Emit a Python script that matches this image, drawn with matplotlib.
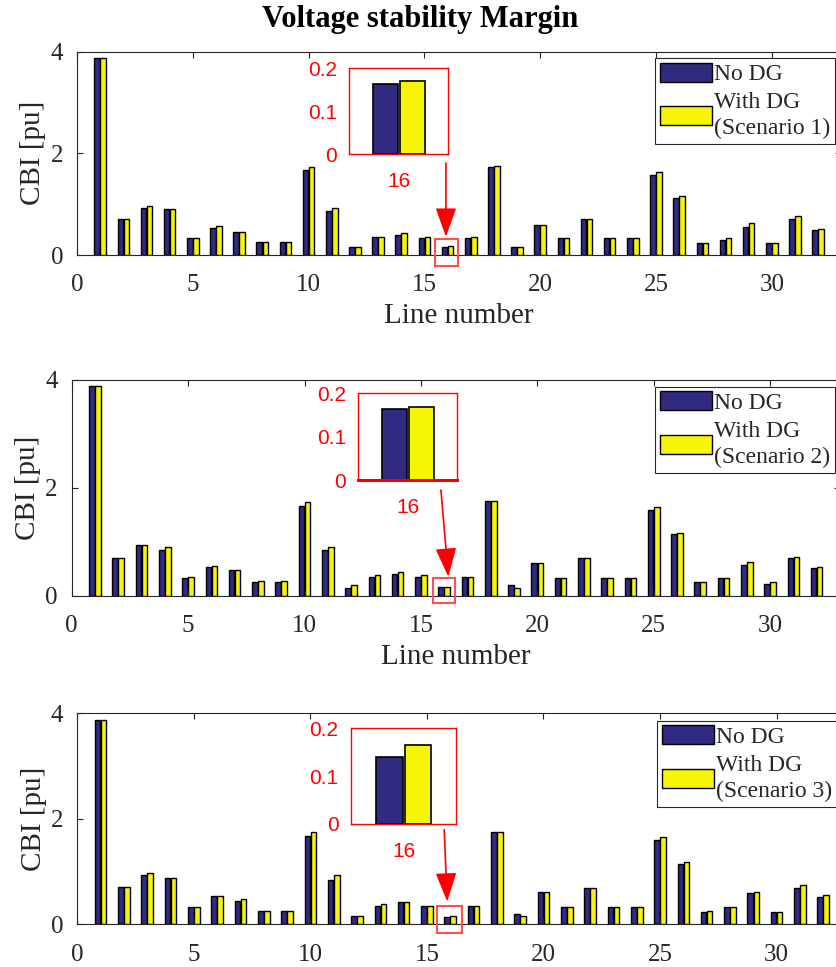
import numpy as np
import matplotlib
matplotlib.use("Agg")
import matplotlib.pyplot as plt
from matplotlib.patches import Rectangle

# Data (CBI per line)
lines = np.arange(1, 33)

no_dg_1 = [3.87, 0.70, 0.93, 0.90, 0.33, 0.54, 0.46, 0.26, 0.26, 1.67, 0.87, 0.16, 0.36, 0.39, 0.34, 0.163,
           0.34, 1.74, 0.16, 0.60, 0.33, 0.70, 0.33, 0.33, 1.57, 1.13, 0.23, 0.30, 0.56, 0.23, 0.70, 0.49]
with_dg_1 = [3.87, 0.70, 0.97, 0.90, 0.33, 0.57, 0.46, 0.26, 0.26, 1.74, 0.93, 0.16, 0.36, 0.44, 0.36, 0.170,
             0.36, 1.76, 0.16, 0.60, 0.33, 0.70, 0.33, 0.33, 1.63, 1.17, 0.23, 0.33, 0.63, 0.23, 0.77, 0.52]

no_dg_2 = [3.88, 0.69, 0.94, 0.85, 0.32, 0.53, 0.47, 0.25, 0.25, 1.67, 0.85, 0.15, 0.35, 0.41, 0.35, 0.163,
           0.35, 1.76, 0.19, 0.60, 0.32, 0.69, 0.32, 0.32, 1.58, 1.14, 0.25, 0.32, 0.57, 0.22, 0.69, 0.51]
with_dg_2 = [3.88, 0.69, 0.94, 0.91, 0.35, 0.56, 0.47, 0.28, 0.28, 1.73, 0.91, 0.19, 0.38, 0.44, 0.38, 0.169,
             0.35, 1.76, 0.15, 0.60, 0.32, 0.69, 0.32, 0.32, 1.64, 1.17, 0.25, 0.32, 0.63, 0.25, 0.72, 0.54]

no_dg_3 = [3.87, 0.70, 0.93, 0.87, 0.32, 0.54, 0.45, 0.26, 0.26, 1.68, 0.84, 0.16, 0.35, 0.42, 0.35, 0.140,
           0.35, 1.74, 0.20, 0.61, 0.32, 0.68, 0.32, 0.32, 1.59, 1.14, 0.23, 0.32, 0.59, 0.23, 0.68, 0.52]
with_dg_3 = [3.87, 0.70, 0.97, 0.87, 0.32, 0.54, 0.48, 0.26, 0.26, 1.74, 0.93, 0.16, 0.39, 0.42, 0.35, 0.166,
             0.35, 1.74, 0.16, 0.61, 0.32, 0.68, 0.32, 0.32, 1.65, 1.17, 0.26, 0.32, 0.62, 0.23, 0.75, 0.56]

scenarios = ["(Scenario 1)", "(Scenario 2)", "(Scenario 3)"]
zoom_line = 16

navy = "#302A80"
yellow = "#F5F505"
txt = "#262626"

plt.rcParams["font.family"] = ["Liberation Serif", "DejaVu Serif"]

fig = plt.figure(figsize=(8.37, 9.67), dpi=100)
W, H = 837.0, 967.0

# pixel layout of each panel: left, top, bottom, px per x unit
panels = [
    dict(left=77, top=51.7, bottom=255, ux=23.16,
         inset=(349.3, 68.3, 448.3, 154.3), legend=(835, 58),
         rect=(15.46, -0.22, 1.0, 0.53), arrow=((15.93, 1.81), (15.93, 0.36)), xlabel=True),
    dict(left=71.7, top=380, bottom=595.7, ux=23.28,
         inset=(358.3, 393.3, 456.7, 480), legend=(835, 386.7),
         rect=(15.51, -0.13, 0.95, 0.45), arrow=((15.86, 1.96), (16.18, 0.35)), xlabel=True),
    dict(left=77.3, top=713, bottom=924.3, ux=23.31,
         inset=(351, 728.3, 455.7, 823.7), legend=(837, 720.7),
         rect=(15.45, -0.17, 1.07, 0.52), arrow=((15.74, 1.79), (15.87, 0.43)), xlabel=False),
]
data = [(no_dg_1, with_dg_1), (no_dg_2, with_dg_2), (no_dg_3, with_dg_3)]

w = 0.24
off = 0.13

for i, p in enumerate(panels):
    a, b = data[i]
    ax = fig.add_axes([p["left"] / W, (H - p["bottom"]) / H,
                       33 * p["ux"] / W, (p["bottom"] - p["top"]) / H])
    ax.bar(lines - off, a, w, color=navy, edgecolor="black", linewidth=1.0, label="No DG")
    ax.bar(lines + off, b, w, color=yellow, edgecolor="black", linewidth=1.0,
           label="With DG\n" + scenarios[i])
    ax.set_xlim(0, 33)
    ax.set_ylim(0, 4)
    ax.set_xticks([0, 5, 10, 15, 20, 25, 30])
    ax.set_yticks([0, 2, 4])
    ax.tick_params(direction="in", top=True, right=True, length=4, width=0.8,
                   labelsize=18, colors=txt)
    ax.tick_params(axis="x", pad=14)
    ax.tick_params(axis="y", pad=10)
    for s in ax.spines.values():
        s.set_color(txt)
        s.set_linewidth(0.8)
    ax.set_ylabel("CBI [pu]", fontsize=21, color=txt, labelpad=3)
    if p["xlabel"]:
        ax.set_xlabel("Line number", fontsize=21, color=txt, labelpad=5)

    leg = ax.legend(loc="upper right", bbox_to_anchor=(p["legend"][0] / W, 1 - p["legend"][1] / H),
                    bbox_transform=fig.transFigure, fontsize=17, frameon=True, fancybox=False,
                    edgecolor=txt, framealpha=1, handlelength=2.2, handleheight=0.85,
                    handletextpad=0.1, borderpad=0.2, labelspacing=0.3, borderaxespad=0)
    leg.get_frame().set_linewidth(0.8)
    for t in leg.get_texts():
        t.set_color(txt)
        t.set_linespacing(1.3)

    # zoom marker around line 16
    rx, ry, rw, rh = p["rect"]
    ax.add_patch(Rectangle((rx, ry), rw, rh, fill=False, edgecolor="#FF5050",
                           linewidth=1.5, clip_on=False, zorder=5))
    ax.annotate("", xy=p["arrow"][1], xytext=p["arrow"][0],
                arrowprops=dict(arrowstyle="-|>,head_length=1.8,head_width=0.65",
                                mutation_scale=10, color="red", lw=1.2,
                                shrinkA=0, shrinkB=0), annotation_clip=False)

    # inset
    x0, y0, x1, y1 = p["inset"]
    ins = fig.add_axes([x0 / W, (H - y1) / H, (x1 - x0) / W, (y1 - y0) / H])
    k = zoom_line - 1
    ins.bar([zoom_line - off], [a[k]], w, color=navy, edgecolor="black", linewidth=1.2)
    ins.bar([zoom_line + off], [b[k]], w, color=yellow, edgecolor="black", linewidth=1.2)
    ins.set_xlim(15.52, 16.47)
    ins.set_ylim(0, 0.2)
    ins.set_xticks([zoom_line])
    ins.set_yticks([0, 0.1, 0.2])
    ins.set_yticklabels(["0", "0.1", "0.2"])
    ins.tick_params(length=0, labelsize=15, colors="red", labelcolor="red")
    ins.tick_params(axis="x", pad=13)
    ins.tick_params(axis="y", pad=9)
    for t in ins.get_xticklabels() + ins.get_yticklabels():
        t.set_family(["Liberation Sans", "DejaVu Sans"])
    for s in ins.spines.values():
        s.set_color("red")
        s.set_linewidth(1.0)
    if i == 1:
        ins.spines["bottom"].set_linewidth(2.2)

fig.text(420 / W, 1 - 19 / H, "Voltage stability Margin", ha="center", va="center",
         fontsize=22, fontweight="bold", color="black")

fig.savefig("out.png", dpi=100)
